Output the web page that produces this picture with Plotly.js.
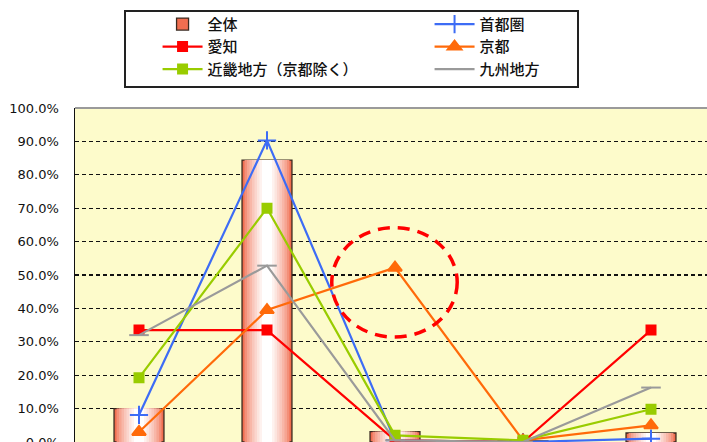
<!DOCTYPE html>
<html>
<head>
<meta charset="utf-8">
<script src="https://cdn.plot.ly/plotly-3.0.1.min.js"></script>
<style>
  html, body { margin: 0; padding: 0; overflow: hidden; background: #ffffff; }
  #chart { width: 722px; height: 470px; }
</style>
</head>
<body>
<div id="chart"></div>
<script>
// Categories along the x axis (labels sit below the visible frame)
const categories = ['区分1', '区分2', '区分3', '区分4', '区分5'];

// Share per category, in percent
const zentai   = [10, 84.4, 3.1, 0.3, 2.7];      // 全体 (bars)
const shutoken = [8.1, 90.3, 0.5, 0, 1];         // 首都圏
const aichi    = [33.5, 33.5, 0.5, 0, 33.5];     // 愛知
const kyoto    = [3, 39.5, 52.2, 0.5, 5];        // 京都
const kinki    = [19.2, 70, 2, 0.5, 9.8];        // 近畿地方（京都除く）
const kyushu   = [32, 52.8, 0.5, 0, 16.3];       // 九州地方

const yTicks = [0, 10, 20, 30, 40, 50, 60, 70, 80, 90, 100];

// Bars drawn as layers in place: coral at the edges fading to white in the middle
const barWidth = 0.39;
const layers = 9;
const edge = [240, 110, 80];
const traces = [];
for (let k = 0; k < layers; k++) {
  const t = k / (layers - 1);
  const mix = Math.pow(t, 0.7);
  const c = edge.map(v => Math.round(v + (255 - v) * mix));
  traces.push({
    type: 'bar',
    x: categories,
    y: zentai,
    name: '全体',
    width: barWidth * (1 - k / (layers + 1)),
    marker: {
      color: `rgb(${c[0]},${c[1]},${c[2]})`,
      line: { color: k === 0 ? '#3a2a20' : 'rgba(0,0,0,0)', width: k === 0 ? 1.3 : 0 }
    },
    showlegend: k === 0,
    hoverinfo: 'skip'
  });
}

function line(name, values, color, symbol, size) {
  return {
    type: 'scatter',
    mode: 'lines+markers',
    x: categories,
    y: values,
    name: name,
    line: { color: color, width: 2.2 },
    marker: { symbol: symbol, size: size, color: color, line: { color: color, width: 2 } }
  };
}

traces.push(line('首都圏', shutoken, '#3d6cf5', 'cross-thin-open', 13));
traces.push(line('愛知', aichi, '#ff0000', 'square', 9));
traces.push(line('京都', kyoto, '#ff6a0a', 'triangle-up', 12));
traces.push(line('近畿地方（京都除く）', kinki, '#99cc00', 'square', 9));
traces.push(line('九州地方', kyushu, '#9a9a9a', 'line-ew-open', 14));

// Highlight ring around the 京都 peak
const peakIdx = 2;
const ring = { cx: peakIdx - 0.004, cy: 47.8, rx: 0.49, ry: 16.4 };

const layout = {
  width: 722,
  height: 470,
  margin: { l: 75, r: 7, t: 108, b: 28 },
  paper_bgcolor: '#ffffff',
  plot_bgcolor: '#fdfbcb',
  barmode: 'overlay',
  showlegend: true,
  legend: {
    orientation: 'h',
    x: 0.129,
    xanchor: 'left',
    y: 1.30,
    yanchor: 'top',
    entrywidth: 217,
    entrywidthmode: 'pixels',
    itemwidth: 40,
    traceorder: 'normal',
    bgcolor: 'rgba(0,0,0,0)',
    borderwidth: 0,
    font: { family: 'Noto Sans CJK JP, sans-serif', size: 15, color: '#111111', weight: 500 }
  },
  xaxis: {
    type: 'category',
    range: [-0.5, 4.5],
    showticklabels: false,
    ticks: '',
    showgrid: false,
    zeroline: false,
    showline: true,
    linecolor: '#999999',
    linewidth: 2,
    fixedrange: true
  },
  yaxis: {
    range: [0, 100],
    tickvals: yTicks,
    ticktext: yTicks.map(v => v.toFixed(1) + '%'),
    ticks: '',
    ticklabelstandoff: 12,
    tickfont: { family: 'DejaVu Sans, sans-serif', size: 13, color: '#111111' },
    showgrid: true,
    gridcolor: '#111111',
    gridwidth: 1.2,
    griddash: '4px,3px',
    zeroline: false,
    showline: true,
    linecolor: '#111111',
    linewidth: 1.5,
    fixedrange: true
  },
  shapes: [
    {
      // legend frame
      type: 'rect',
      xref: 'paper', yref: 'paper',
      x0: (125 - 75) / 640, x1: (578 - 75) / 640,
      y0: 1 + (108 - 87) / 334, y1: 1 + (108 - 11) / 334,
      line: { color: '#222222', width: 2 },
      fillcolor: 'rgba(0,0,0,0)'
    },
    {
      // solid top border of the plot area
      type: 'line',
      xref: 'paper', yref: 'paper',
      x0: 0, x1: 1, y0: 1, y1: 1,
      line: { color: '#9a9a9a', width: 2 },
      layer: 'above'
    },
    {
      type: 'circle',
      xref: 'x', yref: 'y',
      x0: ring.cx - ring.rx, x1: ring.cx + ring.rx,
      y0: ring.cy - ring.ry, y1: ring.cy + ring.ry,
      line: { color: '#ff0000', width: 3.5, dash: '12px,8px' },
      layer: 'above'
    }
  ]
};

Plotly.newPlot('chart', traces, layout, { displayModeBar: false, staticPlot: true });
</script>
</body>
</html>
